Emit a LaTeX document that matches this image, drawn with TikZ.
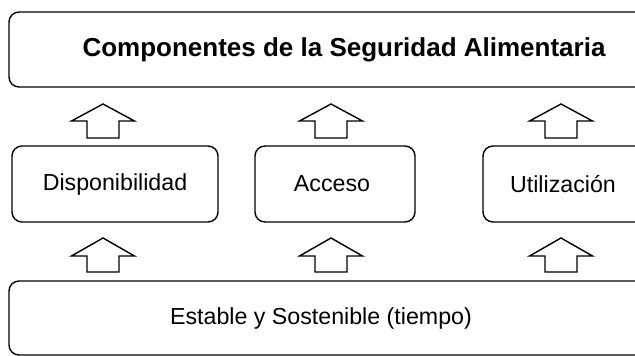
\documentclass[tikz,border=0pt]{standalone}
\usepackage{fontspec}
\setmainfont{Liberation Sans}
\begin{document}
\begin{tikzpicture}[x=1pt,y=-1pt,
  box/.style={draw=black, line width=1.4pt, rounded corners=10pt},
  blockarr/.style={draw=black, line width=1.4pt, fill=white, line join=miter},
  lbl/.style={font=\fontsize{23.2}{27}\selectfont, inner sep=0pt},
  ttl/.style={font=\fontsize{26}{30}\selectfont\bfseries, inner sep=0pt}]
\useasboundingbox (0,0) rectangle (635,356);
\begin{scope}
\clip (0,0) rectangle (635,356);
% boxes
\draw[box] (9,12) rectangle (680,87);
\draw[box] (12,146) rectangle (218,222);
\draw[box] (255,146) rectangle (415,222);
\draw[box] (483,146) rectangle (645,222);
\draw[box] (9,281) rectangle (680,355);
% arrows
\foreach \cx in {103,331,561}{
  \foreach \tip/\base/\bot in {104/121/138, 238/256/272}{
    \draw[blockarr] (\cx,\tip) -- (\cx+31.5,\base) -- (\cx+16,\base) -- (\cx+16,\bot)
      -- (\cx-16,\bot) -- (\cx-16,\base) -- (\cx-31.5,\base) -- cycle;
  }
}
\end{scope}
\node[ttl] (title) at (344,50) {Componentes de la Seguridad Alimentaria};
\node[lbl] (disp) at (115,184) {Disponibilidad};
\node[lbl] (acc) at (332,184) {Acceso};
\node[lbl] (util) at (563,184) {Utilización};
\node[lbl] (est) at (321,318) {Estable y Sostenible (tiempo)};
\end{tikzpicture}
\end{document}
